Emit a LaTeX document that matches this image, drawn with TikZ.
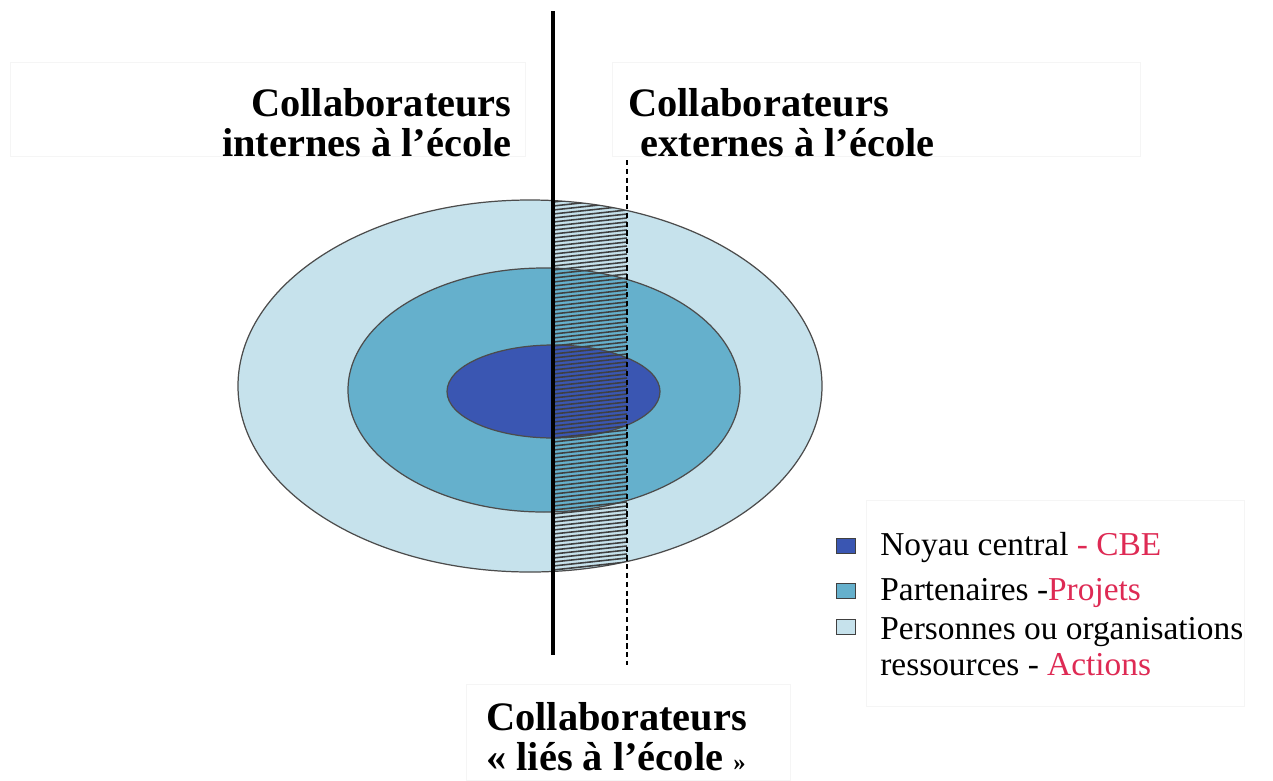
\documentclass[tikz,border=0pt]{standalone}
\usepackage{fontspec}
\setmainfont{Liberation Serif}

\definecolor{coeur}{RGB}{58,86,178}
\definecolor{partenaire}{RGB}{101,176,204}
\definecolor{ressource}{RGB}{198,226,236}
\definecolor{rouge}{RGB}{222,42,84}

\tikzset{
  titre/.style={font=\fontsize{23}{22.7}\selectfont\bfseries, inner sep=0pt},
  legende/.style={font=\fontsize{19}{20.4}\selectfont, inner sep=0pt},
  carre/.style={draw=black!75, minimum width=19*0.2mm, minimum height=15*0.2mm, inner sep=0pt},
  cadre/.style={draw=black!4, line width=0.4pt},
  anneau/.style={draw=black!70, line width=0.7pt},
}

\begin{document}
\begin{tikzpicture}[x=0.2mm, y=-0.2mm]
  \useasboundingbox (0,0) rectangle (1273,780);

  % cadres des textes
  \draw[cadre] (10,62) rectangle (525,156);
  \draw[cadre] (612,62) rectangle (1140,156);
  \draw[cadre] (866,500) rectangle (1244,706);
  \draw[cadre] (466,684) rectangle (790,780);

  % les trois cercles
  \draw[anneau, fill=ressource] (530,386) ellipse [x radius=292, y radius=186];
  \draw[anneau, fill=partenaire] (544,390) ellipse [x radius=196, y radius=122];
  \draw[anneau, fill=coeur] (553.5,391.5) ellipse [x radius=106.5, y radius=46.5];

  % bande hachuree
  \begin{scope}
    \clip (553,0) rectangle (627,780);
    \clip (530,386) ellipse [x radius=292, y radius=186];
    \foreach \y in {190,194,...,600} {
      \draw[black!75, line width=0.9pt] (553,\y) -- (627,\y-8);
    }
  \end{scope}

  % separations
  \coordinate (haut) at (553,11);
  \coordinate (bas) at (553,655);
  \coordinate (hautExt) at (627,160);
  \coordinate (basExt) at (627,665);
  \draw[line width=2.3pt] (haut) -- (bas);
  \draw[line width=0.8pt, dash pattern=on 3pt off 2pt] (hautExt) -- (basExt);

  % titres
  \node[titre, align=right, anchor=north east] (internes) at (512,88)
    {Collaborateurs\\internes à l’école};
  \node[titre, align=left, anchor=north west] (externes) at (628,88)
    {Collaborateurs\\\hspace{0.3em}externes à l’école};
  \node[titre, align=left, anchor=north west] (lies) at (486,702)
    {Collaborateurs\\«~liés à l’école~{\fontsize{14}{14}\selectfont »}};

  % legende
  \node[carre, fill=coeur] (cNoyau) at (846,546) {};
  \node[carre, fill=partenaire] (cPartenaires) at (846,591) {};
  \node[carre, fill=ressource] (cPersonnes) at (846,627) {};
  \node[legende, anchor=base west] (tNoyau) at (880,555)
    {Noyau central \textcolor{rouge}{- CBE}};
  \node[legende, anchor=base west] (tPartenaires) at (880,600)
    {Partenaires -\textcolor{rouge}{Projets}};
  \node[legende, align=left, anchor=north west] (tPersonnes) at (880,617)
    {Personnes ou organisations\\ressources - \textcolor{rouge}{Actions}};
\end{tikzpicture}
\end{document}
